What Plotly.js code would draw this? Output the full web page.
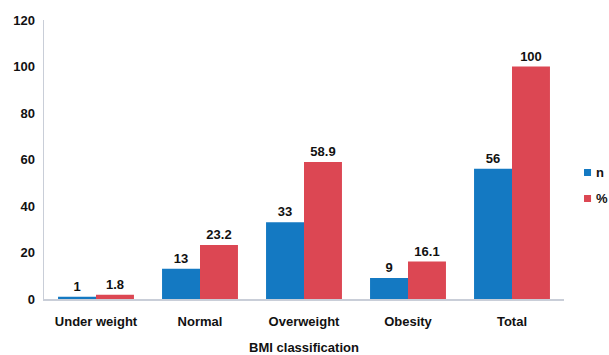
<!DOCTYPE html>
<html>
<head>
<meta charset="utf-8">
<script src="https://cdn.plot.ly/plotly-3.0.1.min.js"></script>
<style>
  html, body { margin: 0; padding: 0; background: #fff; }
  #chart { width: 609px; height: 355px; }
</style>
</head>
<body>
<div id="chart"></div>
<script>
// BMI classification counts and percentages
const categories = ['Under weight', 'Normal', 'Overweight', 'Obesity', 'Total'];
const countValues = [1, 13, 33, 9, 56];
const percentValues = [1.8, 23.2, 58.9, 16.1, 100];
const seriesNames = ['n', '%'];
const seriesColors = ['#1479c2', '#dc4753'];
const yTicks = [0, 20, 40, 60, 80, 100, 120];

const labelFont = { family: 'Liberation Sans, Arial, sans-serif', size: 13, color: '#111', weight: 'bold' };

const traces = [countValues, percentValues].map((vals, i) => ({
  type: 'bar', name: seriesNames[i], x: categories, y: vals,
  text: vals.map(String), textposition: 'outside', cliponaxis: false,
  textfont: labelFont,
  marker: { color: seriesColors[i] },
  showlegend: false
}));

// Compact legend: small colour squares with the series name right beside them
const legendX = 1.0385, legendSq = 0.0135, legendRows = [0.4534, 0.3602];
const legendShapes = seriesNames.map((_, i) => ({
  type: 'rect', xref: 'paper', yref: 'paper',
  x0: legendX, x1: legendX + legendSq,
  y0: legendRows[i] - 0.0125, y1: legendRows[i] + 0.0125,
  fillcolor: seriesColors[i], line: { width: 0 }
}));
const legendLabels = seriesNames.map((name, i) => ({
  xref: 'paper', yref: 'paper', x: legendX + legendSq + 0.006, y: legendRows[i],
  xanchor: 'left', yanchor: 'middle', showarrow: false,
  text: name, font: { size: 13, color: '#111', weight: 'bold' }
}));

const layout = {
  width: 609, height: 355,
  margin: { l: 44, r: 45, t: 20, b: 56, autoexpand: false },
  paper_bgcolor: '#fff', plot_bgcolor: '#fff',
  font: { family: 'Liberation Sans, Arial, sans-serif', size: 13, color: '#111' },
  barmode: 'group', bargap: 0.27, bargroupgap: 0,
  showlegend: false,
  shapes: legendShapes,
  annotations: legendLabels,
  xaxis: {
    showline: true, linecolor: '#c9ced8', linewidth: 1.5,
    ticks: '', showgrid: false, zeroline: false,
    ticklabelstandoff: 10,
    tickfont: { size: 13, weight: 'bold', color: '#111' },
    title: { text: 'BMI classification', font: { size: 13, weight: 'bold', color: '#111' }, standoff: 16 }
  },
  yaxis: {
    range: [0, 120], tickvals: yTicks, ticktext: yTicks.map(String),
    showline: true, linecolor: '#c9ced8', linewidth: 1.5,
    ticks: '', showgrid: false, zeroline: false,
    ticklabelstandoff: 5,
    tickfont: { size: 13, weight: 'bold', color: '#111' }
  }
};

Plotly.newPlot('chart', traces, layout, { displayModeBar: false, staticPlot: true });
</script>
</body>
</html>
